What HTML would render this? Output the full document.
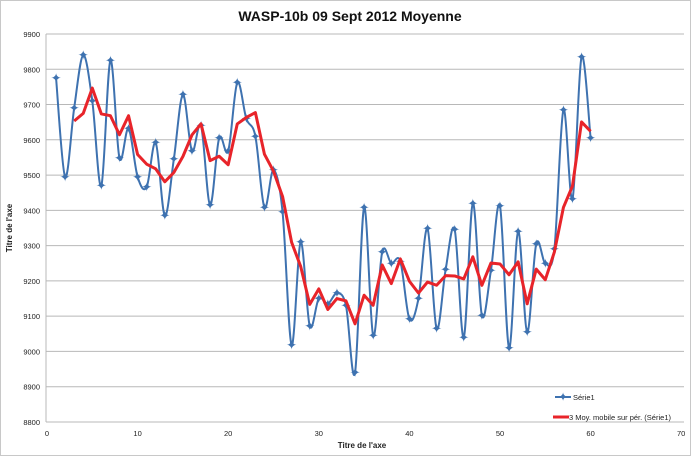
<!DOCTYPE html>
<html><head><meta charset="utf-8"><style>
body{margin:0;background:#fff;width:700px;height:460px;overflow:hidden}
svg{font-family:"Liberation Sans",sans-serif}
</style></head><body>
<svg id="s" width="700" height="460" xmlns="http://www.w3.org/2000/svg">
<rect x="0.5" y="0.5" width="690" height="455" fill="#fff" stroke="#c8c8c8"/>
<text x="350" y="21" text-anchor="middle" font-size="14" font-weight="bold" fill="#111">WASP-10b 09 Sept 2012 Moyenne</text>
<text transform="translate(12,228) rotate(-90)" text-anchor="middle" font-size="8" font-weight="bold" fill="#222">Titre de l'axe</text>
<text x="362" y="448" text-anchor="middle" font-size="8" font-weight="bold" fill="#222">Titre de l'axe</text>
<g id="g"></g>
<line x1="555" y1="397" x2="571" y2="397" stroke="#3e72b0" stroke-width="2"/>
<text x="563" y="401" text-anchor="middle" font-size="12" fill="#3e72b0">✦</text>
<text x="573" y="400" font-size="7.5" fill="#222">Série1</text>
<line x1="553" y1="417" x2="569" y2="417" stroke="#e8242a" stroke-width="3"/>
<text x="569" y="420" font-size="7.5" fill="#222">3 Moy. mobile sur pér. (Série1)</text>
</svg>
<script>
var d=[9775,9495,9690,9840,9710,9470,9825,9548,9632,9495,9466,9592,9385,9545,9728,9568,9640,9415,9605,9568,9762,9660,9610,9408,9515,9395,9018,9310,9072,9150,9135,9165,9130,8940,9408,9045,9282,9250,9255,9092,9150,9348,9065,9232,9345,9040,9420,9102,9230,9412,9010,9340,9055,9305,9250,9290,9685,9432,9835,9605];
function X(i){return 47+9.06*i}function Y(v){return 34+(9900-v)*0.3527}
var g='';
for(var v=8800;v<=9900;v+=100){var y=Y(v);g+='<line x1="46" x2="684" y1="'+y+'" y2="'+y+'" stroke="#b8b8b8" stroke-width="1"/>';g+='<text x="40" y="'+(y+3)+'" text-anchor="end" font-size="7.5" fill="#222">'+v+'</text>';}
g+='<line x1="46" x2="46" y1="34" y2="422" stroke="#b8b8b8"/>';
for(var t=0;t<=70;t+=10){g+='<text x="'+X(t)+'" y="436" text-anchor="middle" font-size="7.5" fill="#222">'+t+'</text>';}
var p=d.map(function(v,k){return [X(k+1),Y(v)]});
var s='M'+p[0][0]+','+p[0][1];
for(var k=0;k<p.length-1;k++){var p0=p[k-1]||p[k],p1=p[k],p2=p[k+1],p3=p[k+2]||p2;
s+='C'+(p1[0]+(p2[0]-p0[0])/6)+','+(p1[1]+(p2[1]-p0[1])/6)+' '+(p2[0]-(p3[0]-p1[0])/6)+','+(p2[1]-(p3[1]-p1[1])/6)+' '+p2[0]+','+p2[1];}
g+='<path d="'+s+'" fill="none" stroke="#3e72b0" stroke-width="2"/>';
p.forEach(function(q){g+='<text x="'+q[0]+'" y="'+(q[1]+4.5)+'" text-anchor="middle" font-size="13" fill="#3e72b0">✦</text>'});
var r=[];for(var k=2;k<d.length;k++){r.push(X(k+1)+','+Y((d[k]+d[k-1]+d[k-2])/3));}
g+='<polyline points="'+r.join(' ')+'" fill="none" stroke="#e8242a" stroke-width="3" stroke-linejoin="round"/>';
document.getElementById('g').innerHTML=g;
</script>
</body></html>
